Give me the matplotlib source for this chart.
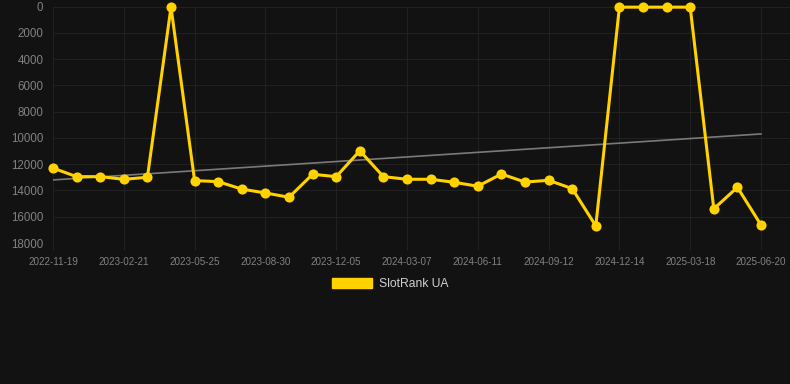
import matplotlib
matplotlib.use("Agg")
import matplotlib.pyplot as plt
from matplotlib.patches import Patch

plt.rcParams["font.family"] = ["Liberation Sans", "DejaVu Sans"]

tick_labels = ["2022-11-19", "2023-02-21", "2023-05-25", "2023-08-30", "2023-12-05",
               "2024-03-07", "2024-06-11", "2024-09-12", "2024-12-14", "2025-03-18",
               "2025-06-20"]
ranks = [12300, 12950, 12950, 13150, 13000, 50, 13250, 13330, 13900, 14190,
         14520, 12770, 12950, 10980, 12950, 13150, 13150, 13380, 13680, 12750,
         13360, 13230, 13860, 16700, 50, 50, 50, 50, 15400, 13760, 16630]
trend_ends = [13200, 9700]
series_name = "SlotRank UA"

BG = "#121212"
YELLOW = "#FFD200"
GRID = "#212121"
TXT = "#828282"

fig = plt.figure(figsize=(7.9, 3.84), dpi=100, facecolor=BG)
ax = fig.add_axes([53/790, 1-243/384, 1-53/790, (243-6.5)/384])
ax.set_facecolor(BG)

x = list(range(len(ranks)))
ax.plot([x[0], x[-1]], trend_ends, color="#7a7a7a", lw=1.2, zorder=2)
ax.plot(x, ranks, color=YELLOW, lw=2.2, marker="o", markersize=7.3,
        markeredgewidth=0, zorder=3, clip_on=False)

ax.set_ylim(18000, 0)
ax.set_xlim(0, (790-53)/((761-53)/30))
ax.set_yticks(range(0, 18001, 2000))
ax.set_xticks(range(0, len(ranks), 3))
ax.set_xticklabels(tick_labels)

ax.grid(True, color=GRID, lw=0.8)
ax.set_axisbelow(True)
for s in ax.spines.values():
    s.set_visible(False)
ax.tick_params(axis="y", length=0, pad=7, labelsize=8.3, labelcolor=TXT)
ax.tick_params(axis="x", length=5, color=GRID, pad=5, labelsize=7.1, labelcolor=TXT)

handle = Patch(facecolor=YELLOW, edgecolor=YELLOW)
leg = fig.legend([handle], [series_name], loc="center", bbox_to_anchor=(390/790, 1-284/384),
                 frameon=False, handlelength=3.3, handleheight=0.9, handletextpad=0.55,
                 fontsize=8.7)
for t in leg.get_texts():
    t.set_color("#d0d0d0")

fig.savefig("out.png", dpi=100, facecolor=BG)
